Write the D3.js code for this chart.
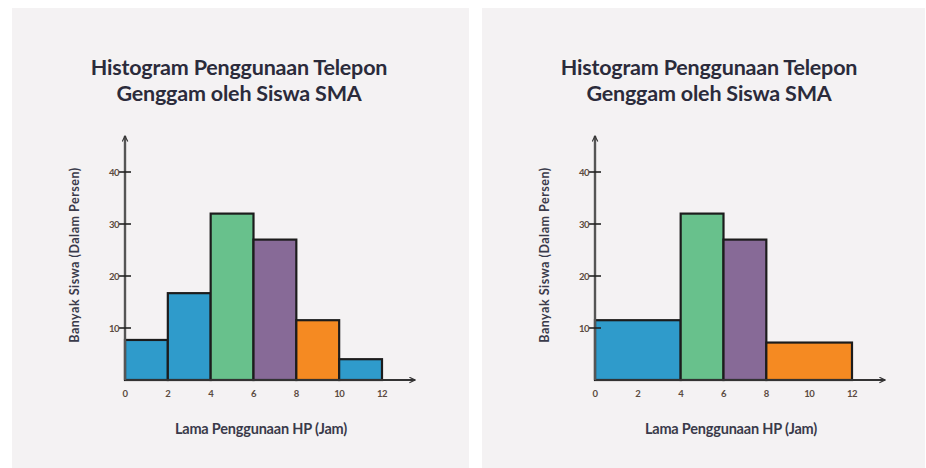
<!DOCTYPE html>
<html>
<head>
<meta charset="utf-8">
<script src="https://cdn.jsdelivr.net/npm/d3@7"></script>
<style>
  body { margin: 0; background: #ffffff; }
  svg { display: block; }
  text { font-family: Lato, "Open Sans", sans-serif; }
</style>
</head>
<body>
<div id="chart"></div>
<script>
// Chart data
const titleLines = ["Histogram Penggunaan Telepon", "Genggam oleh Siswa SMA"];
const xLabel = "Lama Penggunaan HP (Jam)";
const yLabel = "Banyak Siswa (Dalam Persen)";
const xTicks = [0, 2, 4, 6, 8, 10, 12];
const yTicks = [10, 20, 30, 40];

// left histogram: equal width classes
const leftStarts = [0, 2, 4, 6, 8, 10];
const leftEnds = [2, 4, 6, 8, 10, 12];
const leftValues = [7.7, 16.7, 32, 27, 11.5, 4];
const leftColors = ["#2f9bcb", "#2f9bcb", "#68c18c", "#876a97", "#f58a22", "#2f9bcb"];

// right histogram: unequal width classes
const rightStarts = [0, 4, 6, 8];
const rightEnds = [4, 6, 8, 12];
const rightValues = [11.5, 32, 27, 7.2];
const rightColors = ["#2f9bcb", "#68c18c", "#876a97", "#f58a22"];

const W = 926, H = 468;
const svg = d3.select("#chart").append("svg")
    .attr("width", W)
    .attr("height", H);

function drawPanel(offsetX, panelW, starts, ends, values, colors) {
    const g = svg.append("g").attr("transform", `translate(${offsetX},0)`);

    // panel background
    g.append("rect")
        .attr("x", 0).attr("y", 8)
        .attr("width", panelW).attr("height", H - 8)
        .attr("fill", "#f4f2f3");

    // title
    g.selectAll(".title")
        .data(titleLines)
        .enter()
        .append("text")
        .attr("class", "title")
        .attr("x", 227)
        .attr("y", (d, i) => 75 + i * 26)
        .attr("text-anchor", "middle")
        .attr("font-size", "21.5px")
        .attr("font-weight", "bold")
        .attr("letter-spacing", "-0.2px")
        .attr("fill", "#2b2b3b")
        .text(d => d);

    const x = d3.scaleLinear().domain([0, 12]).range([113, 370]);
    const y = d3.scaleLinear().domain([0, 40]).range([380, 172]);

    // bars
    g.selectAll(".bar")
        .data(values)
        .enter()
        .append("rect")
        .attr("class", "bar")
        .attr("x", (d, i) => x(starts[i]))
        .attr("y", d => y(d))
        .attr("width", (d, i) => x(ends[i]) - x(starts[i]))
        .attr("height", d => y(0) - y(d))
        .attr("fill", (d, i) => colors[i])
        .attr("stroke", "#1c1c1c")
        .attr("stroke-width", 2.2);

    // arrow marker
    const id = "arr" + offsetX;
    g.append("defs").append("marker")
        .attr("id", id)
        .attr("viewBox", "0 0 10 10")
        .attr("refX", 9).attr("refY", 5)
        .attr("markerWidth", 7).attr("markerHeight", 7)
        .attr("markerUnits", "userSpaceOnUse")
        .attr("orient", "auto")
        .append("path")
        .attr("d", "M1,1 L9,5 L1,9")
        .attr("fill", "none")
        .attr("stroke", "#333")
        .attr("stroke-width", 1.6);

    // x axis line
    g.append("line")
        .attr("x1", x(0)).attr("x2", 403)
        .attr("y1", y(0)).attr("y2", y(0))
        .attr("stroke", "#333").attr("stroke-width", 1.8)
        .attr("marker-end", `url(#${id})`);

    // y axis line
    g.append("line")
        .attr("x1", x(0)).attr("x2", x(0))
        .attr("y1", y(0)).attr("y2", 136)
        .attr("stroke", "#555").attr("stroke-width", 2.4)
        .attr("marker-end", `url(#${id})`);

    // y ticks
    g.selectAll(".ytick")
        .data(yTicks)
        .enter()
        .append("line")
        .attr("x1", x(0) - 6).attr("x2", x(0) + 6)
        .attr("y1", d => y(d)).attr("y2", d => y(d))
        .attr("stroke", "#222").attr("stroke-width", 1.6);

    g.selectAll(".ylab")
        .data(yTicks)
        .enter()
        .append("text")
        .attr("x", x(0) - 6)
        .attr("y", d => y(d) + 3.5)
        .attr("text-anchor", "end")
        .attr("font-size", "9.5px")
        .attr("font-weight", "bold")
        .attr("letter-spacing", "-0.5px")
        .attr("fill", "#5a4a40")
        .text(d => d);

    g.selectAll(".xlab")
        .data(xTicks)
        .enter()
        .append("text")
        .attr("x", d => x(d))
        .attr("y", 397)
        .attr("text-anchor", "middle")
        .attr("font-size", "9.5px")
        .attr("font-weight", "bold")
        .attr("letter-spacing", "-0.5px")
        .attr("fill", "#5a4a40")
        .text(d => d);

    // axis titles
    g.append("text")
        .attr("x", 249)
        .attr("y", 434)
        .attr("text-anchor", "middle")
        .attr("font-size", "14.5px")
        .attr("font-weight", "bold")
        .attr("letter-spacing", "-0.2px")
        .attr("fill", "#3a3a4a")
        .text(xLabel);

    g.append("text")
        .attr("transform", `translate(67,255) rotate(-90)`)
        .attr("text-anchor", "middle")
        .attr("font-size", "12.5px")
        .attr("font-weight", "bold")
        .attr("letter-spacing", "0.5px")
        .attr("fill", "#3a3a4a")
        .text(yLabel);
}

drawPanel(12, 457, leftStarts, leftEnds, leftValues, leftColors);
drawPanel(482, 443, rightStarts, rightEnds, rightValues, rightColors);
</script>
</body>
</html>
